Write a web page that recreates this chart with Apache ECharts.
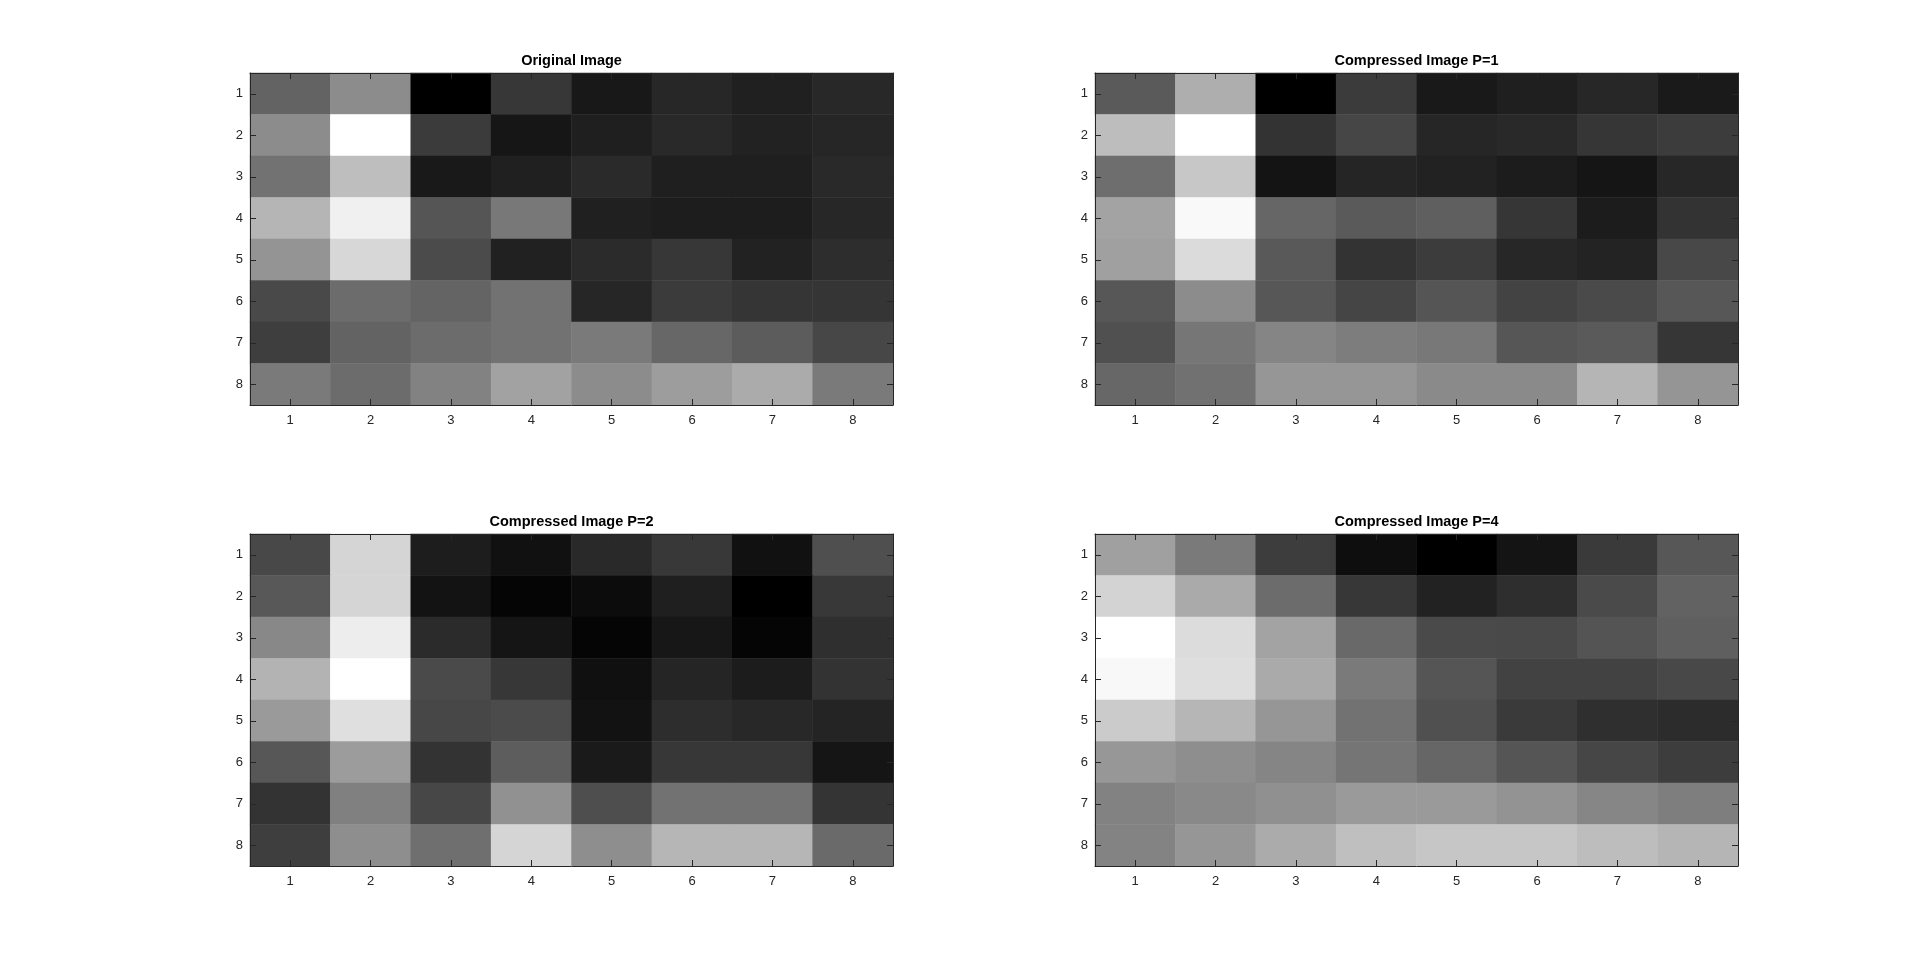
<!DOCTYPE html>
<html>
<head>
<meta charset="utf-8">
<script src="https://cdn.jsdelivr.net/npm/echarts@6/dist/echarts.min.js"></script>
<style>
html,body{margin:0;padding:0;background:#fff;}
#chart{width:1920px;height:974px;}
</style>
</head>
<body>
<div id="chart"></div>
<script>
// Tick labels (columns and rows of the 8x8 images)
const columnLabels = ['1','2','3','4','5','6','7','8'];
const rowLabels = ['1','2','3','4','5','6','7','8'];
const panelTitles = ['Original Image','Compressed Image P=1','Compressed Image P=2','Compressed Image P=4'];

// Gray levels (0 = black, 255 = white), row by row
const originalImage = [
  [99,140,0,55,24,39,32,40],
  [140,255,59,22,31,41,34,38],
  [114,190,25,32,42,31,31,41],
  [181,240,85,120,32,29,29,39],
  [148,215,75,33,43,55,34,45],
  [73,108,100,114,38,59,53,53],
  [62,99,108,114,122,103,92,71],
  [122,108,130,162,140,157,171,122]
];
const compressedP1 = [
  [90,174,0,59,25,31,39,26],
  [189,255,51,70,38,41,54,60],
  [110,199,20,37,34,28,21,39],
  [163,249,102,90,95,54,28,51],
  [160,219,89,51,60,39,35,72],
  [87,140,87,69,85,67,74,87],
  [80,118,133,125,120,86,90,54],
  [103,113,150,150,138,138,181,149]
];
const compressedP2 = [
  [72,213,29,17,41,56,17,79],
  [88,213,19,5,12,31,0,56],
  [136,237,43,21,5,23,5,47],
  [179,255,74,55,16,37,28,51],
  [154,223,71,75,18,45,40,36],
  [87,156,51,93,26,55,55,21],
  [51,128,71,145,78,114,114,52],
  [62,142,111,213,142,182,182,106]
];
const compressedP4 = [
  [160,122,61,14,0,20,58,87],
  [211,170,108,55,34,46,74,98],
  [255,220,163,105,74,73,84,95],
  [248,222,170,122,85,66,66,72],
  [203,182,150,114,80,58,47,44],
  [151,142,133,117,102,85,70,61],
  [130,137,144,154,154,147,134,126],
  [131,150,171,191,198,198,189,181]
];

const images = [originalImage, compressedP1, compressedP2, compressedP4];

const gridBoxes = [
  {left:250, top:73, width:643, height:332},
  {left:1095, top:73, width:643, height:332},
  {left:250, top:534, width:643, height:332},
  {left:1095, top:534, width:643, height:332}
];

const axisColor = '#262626';
const fontFamily = '"Liberation Sans", Arial, Helvetica, sans-serif';

const grid = [], xAxis = [], yAxis = [], series = [], visualMap = [], title = [];

gridBoxes.forEach((g, i) => {
  grid.push({left:g.left, top:g.top, width:g.width, height:g.height, containLabel:false});
  title.push({
    text: panelTitles[i],
    left: g.left + g.width / 2,
    top: g.top - 20,
    textAlign: 'center',
    padding: 0,
    textStyle: {fontSize: 14.5, fontWeight: 'bold', color: '#000', fontFamily: fontFamily}
  });
  const tick = {show:true, inside:true, length:6, alignWithLabel:true, lineStyle:{color:axisColor, width:1}};
  const line = {show:true, lineStyle:{color:axisColor, width:1}};
  xAxis.push({
    type:'category', gridIndex:i, data:columnLabels, position:'bottom', z:10,
    boundaryGap:true, axisLine:line, axisTick:tick, splitLine:{show:false},
    axisLabel:{color:axisColor, fontSize:13, margin:9, fontFamily:fontFamily}
  });
  xAxis.push({
    type:'category', gridIndex:i, data:columnLabels, position:'top', z:10,
    boundaryGap:true, axisLine:line, axisTick:tick, axisLabel:{show:false}, splitLine:{show:false}
  });
  yAxis.push({
    type:'category', gridIndex:i, data:rowLabels, position:'left', inverse:true, z:10,
    boundaryGap:true, axisLine:line, axisTick:tick, splitLine:{show:false},
    axisLabel:{color:axisColor, fontSize:13, margin:7, fontFamily:fontFamily}
  });
  yAxis.push({
    type:'category', gridIndex:i, data:rowLabels, position:'right', inverse:true, z:10,
    boundaryGap:true, axisLine:line, axisTick:tick, axisLabel:{show:false}, splitLine:{show:false}
  });
  const data = [];
  images[i].forEach((row, r) => row.forEach((v, c) => data.push([c, r, v])));
  series.push({
    type:'heatmap', xAxisIndex:2*i, yAxisIndex:2*i, data:data,
    itemStyle:{borderWidth:0}, emphasis:{disabled:true}, progressive:0
  });
  visualMap.push({
    type:'continuous', show:false, seriesIndex:i, min:0, max:255, dimension:2,
    inRange:{color:['#000000','#ffffff']}
  });
});

const chart = echarts.init(document.getElementById('chart'), null, {renderer:'canvas'});
chart.setOption({
  backgroundColor:'#ffffff',
  animation:false,
  title, grid, xAxis, yAxis, series, visualMap,
  tooltip:{show:false}
});
</script>
</body>
</html>
